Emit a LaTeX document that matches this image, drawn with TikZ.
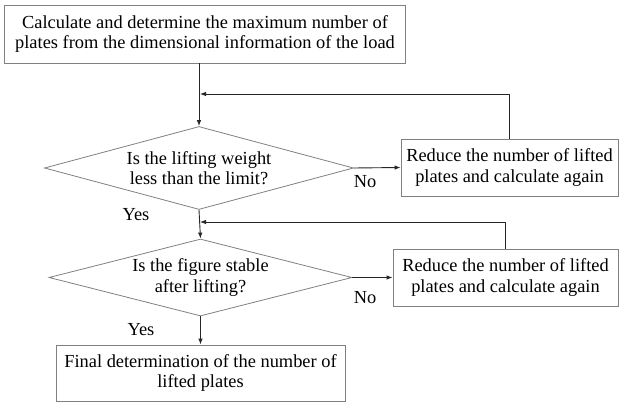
\documentclass[tikz,border=0pt]{standalone}
\usepackage{fontspec}
\setmainfont{Liberation Serif}
\newfontfamily\diaserif{Liberation Serif}
\usetikzlibrary{shapes.geometric,arrows.meta}
\begin{document}
\begin{tikzpicture}[x=1pt,y=-1pt,
  every node/.style={font=\diaserif\fontsize{18.4}{20.5}\selectfont},
  box/.style={draw=black!50,line width=0.8pt,inner sep=0pt,align=center},
  dia/.style={draw=black!50,line width=0.8pt,shape=diamond,inner sep=0pt,align=center},
  conn/.style={draw=black!85,line width=0.9pt,-{Latex[length=6pt,width=4.5pt]}},
  lbl/.style={inner sep=0pt}]
\useasboundingbox (0,0) rectangle (619,403);
\node[box,minimum width=401pt,minimum height=58pt] (top) at (205,34)
  {Calculate and determine the maximum number of\\plates from the dimensional information of the load};
\node[dia,minimum width=309pt,minimum height=83pt,aspect=3.72] (d1) at (199,168)
  {Is the lifting weight\\less than the limit?};
\node[box,minimum width=217pt,minimum height=57pt] (r1) at (509.5,167.5)
  {Reduce the number of lifted\\plates and calculate again};
\node[dia,minimum width=303pt,minimum height=77pt,aspect=3.93] (d2) at (200.5,277.5)
  {Is the figure stable\\after lifting?};
\node[box,minimum width=225pt,minimum height=57pt] (r2) at (505.5,277.5)
  {Reduce the number of lifted\\plates and calculate again};
\node[box,minimum width=289pt,minimum height=56pt] (fin) at (200.5,373)
  {Final determination of the number of\\lifted plates};
\node[lbl] (no1) at (365,182) {No};
\node[lbl] (no2) at (365,298) {No};
\node[lbl] (yes1) at (136,215) {Yes};
\node[lbl] (yes2) at (141,330) {Yes};
\coordinate (j1) at (200,94);
\coordinate (j2) at (200,222);
\draw[conn] (top.south -| d1.north) -- (d1.north);
\draw[conn] (r1.north) -- (r1.north |- j1) -- (j1);
\draw[conn] (d1.east) -- (r1.west);
\draw[conn] (d1.south) -- (d2.north);
\draw[conn] (r2.north) -- (r2.north |- j2) -- (j2);
\draw[conn] (d2.east) -- (r2.west);
\draw[conn] (d2.south) -- (fin.north);
\end{tikzpicture}
\end{document}
